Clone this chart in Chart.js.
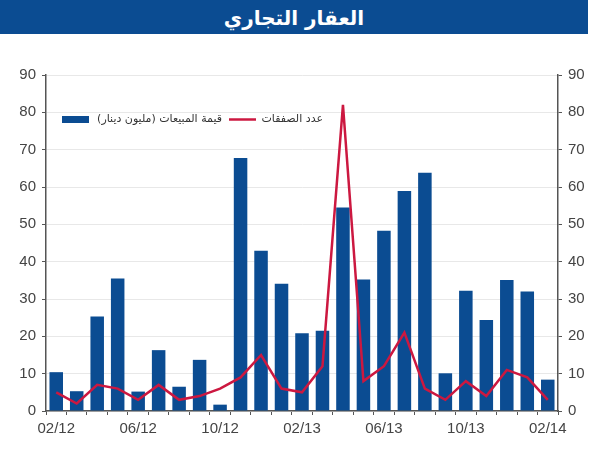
<!DOCTYPE html>
<html>
<head>
<meta charset="utf-8">
<script src="https://cdn.jsdelivr.net/npm/chart.js@4/dist/chart.umd.min.js"></script>
<style>
  html, body { margin: 0; padding: 0; background: #fff; }
  #wrap { position: relative; width: 591px; height: 450px; }
  #title {
    position: absolute; left: 0; top: 0; width: 588px; height: 34px;
    background: #0b4c92; color: #fff; text-align: center;
    font: bold 20px "DejaVu Sans", sans-serif; line-height: 36px;
    direction: rtl; z-index: 2;
  }
  #chart { position: absolute; left: 0; top: 0; }
</style>
</head>
<body>
<div id="wrap">
  <div id="title">العقار التجاري</div>
  <canvas id="chart" width="591" height="450"></canvas>
</div>
<script>
  var months = [
    '02/12', '03/12', '04/12', '05/12', '06/12', '07/12', '08/12', '09/12',
    '10/12', '11/12', '12/12', '01/13', '02/13', '03/13', '04/13', '05/13',
    '06/13', '07/13', '08/13', '09/13', '10/13', '11/13', '12/13', '01/14', '02/14'
  ];
  // sales value, million dinars (left axis)
  var salesValue = [
    10.4, 5.3, 25.3, 35.5, 5.2, 16.3, 6.5, 13.7, 1.7, 67.8, 42.9, 34.1, 20.8,
    21.5, 54.5, 35.2, 48.3, 58.9, 63.8, 10.1, 32.2, 24.4, 35.1, 32.0, 8.4
  ];
  // number of deals (right axis)
  var dealCount = [
    5, 2, 7, 6, 3, 7, 3, 4, 6, 9, 15, 6, 5,
    12, 82, 8, 12, 21, 6, 3, 8, 4, 11, 9, 3
  ];
  var salesLabel = 'قيمة المبيعات (مليون دينار)';
  var dealsLabel = 'عدد الصفقات';
  var yTicks = [0, 10, 20, 30, 40, 50, 60, 70, 80, 90];

  var barColor = '#0b4c92';
  var lineColor = '#cc1840';
  var axisColor = '#555555';

  var legendPlugin = {
    id: 'insideLegend',
    afterDraw: (chart) => {
      var ctx = chart.ctx;
      ctx.save();
      ctx.fillStyle = barColor;
      ctx.fillRect(62, 116, 27, 7);
      ctx.strokeStyle = lineColor;
      ctx.lineWidth = 2.5;
      ctx.beginPath();
      ctx.moveTo(229, 119.5);
      ctx.lineTo(256, 119.5);
      ctx.stroke();
      ctx.fillStyle = '#333';
      ctx.font = '11px "DejaVu Sans", sans-serif';
      ctx.direction = 'rtl';
      ctx.textAlign = 'right';
      ctx.textBaseline = 'middle';
      ctx.fillText(salesLabel, 222, 119);
      ctx.fillText(dealsLabel, 323, 119);
      ctx.restore();
    }
  };

  var tickFont = { family: '"Liberation Sans", Arial, sans-serif', size: 15 };

  new Chart(document.getElementById('chart'), {
    type: 'bar',
    data: {
      labels: months,
      datasets: [{
        label: salesLabel,
        data: salesValue,
        backgroundColor: barColor,
        barPercentage: 0.66,
        categoryPercentage: 1,
        yAxisID: 'y',
        order: 2
      }, {
        type: 'line',
        label: dealsLabel,
        data: dealCount,
        borderColor: lineColor,
        borderWidth: 2.5,
        pointRadius: 0,
        tension: 0,
        yAxisID: 'y1',
        order: 1
      }]
    },
    options: {
      responsive: false,
      animation: false,
      layout: { padding: { top: 75, left: 0, right: 0, bottom: 0 } },
      plugins: {
        legend: { display: false },
        tooltip: { enabled: false }
      },
      scales: {
        x: {
          offset: true,
          grid: {
            offset: true, drawOnChartArea: false, tickLength: 4,
            color: axisColor, tickColor: axisColor
          },
          border: { color: axisColor, width: 1.5 },
          ticks: {
            autoSkip: false, maxRotation: 0, color: '#444', font: tickFont,
            padding: 5,
            callback: (v, i) => i % 4 === 0 ? months[i] : ''
          },
          afterFit: (s) => { s.height = 39; }
        },
        y: {
          position: 'left',
          min: 0, max: 90,
          afterBuildTicks: (s) => { s.ticks = yTicks.map((v) => ({ value: v })); },
          grid: { color: '#e8e8e8', tickColor: axisColor, tickLength: 4 },
          border: { color: axisColor, width: 1.5 },
          ticks: { color: '#444', font: tickFont, padding: 6 },
          afterFit: (s) => { s.width = 46; }
        },
        y1: {
          position: 'right',
          min: 0, max: 90,
          afterBuildTicks: (s) => { s.ticks = yTicks.map((v) => ({ value: v })); },
          grid: { drawOnChartArea: false, tickColor: axisColor, tickLength: 4 },
          border: { color: axisColor, width: 1.5 },
          ticks: { color: '#444', font: tickFont, padding: 6 },
          afterFit: (s) => { s.width = 33; }
        }
      }
    },
    plugins: [legendPlugin]
  });
</script>
</body>
</html>
